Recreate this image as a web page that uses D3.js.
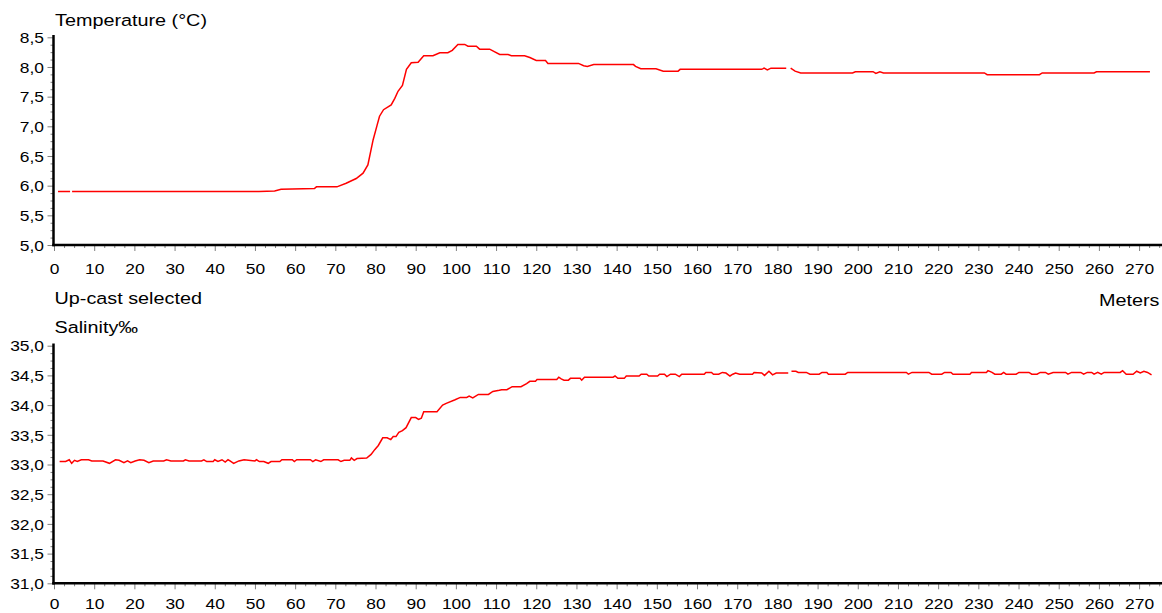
<!DOCTYPE html>
<html>
<head>
<meta charset="utf-8">
<script src="https://cdnjs.cloudflare.com/ajax/libs/d3/7.8.5/d3.min.js"></script>
<style>
body { margin: 0; background: #fff; }
svg { display: block; }
</style>
</head>
<body>
<div id="chart"></div>
<script>
// tick values
var depthTicks = d3.range(0, 271, 10);
var tempTicks = [5.0, 5.5, 6.0, 6.5, 7.0, 7.5, 8.0, 8.5];
var salTicks = [31.0, 31.5, 32.0, 32.5, 33.0, 33.5, 34.0, 34.5, 35.0];

// temperature profile (null = break in the trace)
var tempDepth = [1, 4.0, 4.2, 4.5, 51, 54.9, 56.5, 64.8, 65.3, 70.4,
	72.7, 75.2, 76.9, 78.1, 79.4, 80.4, 81.0, 82.0, 83.9, 84.8,
	85.6, 86.7, 87.7, 88.9, 90.6, 92.0, 94.3, 96.0, 98.0, 99.1,
	100.5, 102.2, 103.0, 105.1, 105.9, 108.4, 110.9, 113.0, 113.8, 117.1,
	118.4, 120.0, 122.3, 122.9, 129.6, 130.5, 131.8, 132.7, 134.3, 144.2,
	144.7, 146.0, 149.8, 151.6, 155.3, 155.8, 176.1, 176.7, 177.5, 178.4,
	182.2, 182.8, 183.3, 184.4, 185.8, 198.7, 199.4, 203.8, 204.5, 205.5,
	206.4, 231.5, 232.2, 245.2, 245.9, 258.8, 259.4, 272.7];
var tempValue = [5.90, 5.90, null, 5.90, 5.90, 5.91, 5.94, 5.95, 5.98, 5.98,
	6.04, 6.12, 6.21, 6.35, 6.77, 7.02, 7.17, 7.28, 7.36, 7.47,
	7.59, 7.69, 7.96, 8.07, 8.08, 8.19, 8.19, 8.24, 8.24, 8.28,
	8.38, 8.38, 8.35, 8.35, 8.30, 8.30, 8.21, 8.21, 8.19, 8.19,
	8.16, 8.11, 8.11, 8.06, 8.06, 8.06, 8.02, 8.01, 8.04, 8.04,
	8.01, 7.97, 7.97, 7.93, 7.93, 7.96, 7.96, 7.98, 7.95, 7.98,
	7.98, null, 7.98, 7.93, 7.90, 7.90, 7.92, 7.92, 7.89, 7.92,
	7.90, 7.90, 7.87, 7.87, 7.90, 7.90, 7.92, 7.92];

// salinity profile
var salDepth = [1.4, 2.9, 3.8, 4.4, 5.1, 5.8, 6.8, 8.6, 9.4, 12.2,
	13.8, 15.3, 16.2, 17.4, 18.3, 19.1, 20.2, 21.3, 22.4, 23.6,
	24.7, 27.3, 28.0, 29.1, 32.2, 32.7, 33.6, 36.7, 37.3, 38.0,
	39.6, 40.0, 40.8, 41.8, 42.6, 43.3, 43.8, 44.7, 46.0, 47.3,
	50.0, 50.4, 51.1, 52.2, 53.3, 54.0, 56.2, 56.7, 59.3, 59.8,
	60.4, 63.8, 64.4, 65.1, 66.4, 67.1, 70.7, 71.4, 72.2, 73.6,
	74.0, 74.7, 75.4, 77.8, 78.9, 79.8, 80.7, 81.8, 82.9, 83.8,
	84.4, 85.1, 85.8, 86.7, 87.6, 88.9, 90.0, 90.7, 91.4, 92.0,
	95.3, 96.7, 97.6, 99.8, 101.1, 102.7, 103.3, 104.2, 105.6, 108.1,
	109.2, 110.8, 111.4, 112.7, 114.0, 116.2, 117.6, 118.4, 119.8, 120.2,
	125.1, 125.6, 126.2, 126.9, 128.0, 128.5, 130.9, 131.3, 132.0, 139.1,
	139.6, 140.3, 141.9, 142.4, 145.6, 146.1, 147.5, 148.0, 150.2, 150.7,
	151.9, 152.5, 153.4, 154.6, 155.6, 156.2, 161.8, 162.2, 163.6, 164.1,
	165.4, 166.3, 167.2, 168.2, 168.9, 169.6, 170.6, 173.8, 174.2, 176.1,
	176.8, 177.9, 178.8, 179.7, 182.7, 183.1, 183.5, 184.6, 185.2, 187.2,
	188.1, 190.4, 191.1, 192.3, 192.7, 196.9, 197.5, 212.1, 212.6, 213.5,
	217.7, 218.4, 220.9, 221.6, 223.2, 223.7, 227.9, 228.3, 232.0, 232.4,
	233.4, 234.1, 235.7, 236.3, 236.9, 239.4, 240.1, 242.6, 243.3, 244.6,
	245.4, 246.7, 247.4, 248.6, 251.7, 252.3, 253.2, 255.5, 256.2, 257.1,
	258.2, 258.8, 259.7, 260.6, 261.3, 265.3, 265.9, 266.8, 268.5, 269.4,
	270.3, 271.2, 272.1, 273.1];
var salValue = [33.05, 33.05, 33.08, 33.02, 33.07, 33.05, 33.08, 33.08, 33.06, 33.06,
	33.02, 33.08, 33.07, 33.03, 33.06, 33.03, 33.06, 33.08, 33.07, 33.03,
	33.06, 33.06, 33.08, 33.06, 33.06, 33.08, 33.06, 33.06, 33.08, 33.05,
	33.05, 33.08, 33.05, 33.08, 33.04, 33.08, 33.06, 33.02, 33.06, 33.08,
	33.06, 33.08, 33.05, 33.05, 33.02, 33.05, 33.05, 33.08, 33.08, 33.05,
	33.08, 33.08, 33.05, 33.08, 33.05, 33.08, 33.08, 33.05, 33.07, 33.07,
	33.11, 33.07, 33.10, 33.11, 33.17, 33.25, 33.32, 33.45, 33.45, 33.42,
	33.47, 33.47, 33.54, 33.57, 33.62, 33.79, 33.79, 33.76, 33.78, 33.89,
	33.89, 34.00, 34.03, 34.09, 34.13, 34.13, 34.15, 34.12, 34.18, 34.18,
	34.23, 34.25, 34.26, 34.26, 34.31, 34.31, 34.36, 34.40, 34.40, 34.43,
	34.43, 34.47, 34.44, 34.42, 34.42, 34.45, 34.45, 34.42, 34.47, 34.47,
	34.49, 34.45, 34.45, 34.49, 34.49, 34.52, 34.52, 34.49, 34.49, 34.52,
	34.52, 34.48, 34.52, 34.52, 34.48, 34.52, 34.52, 34.55, 34.55, 34.52,
	34.52, 34.55, 34.54, 34.49, 34.52, 34.54, 34.52, 34.52, 34.55, 34.54,
	34.50, 34.57, 34.51, 34.54, 34.54, null, 34.57, 34.57, 34.55, 34.55,
	34.52, 34.52, 34.55, 34.55, 34.52, 34.52, 34.55, 34.55, 34.52, 34.55,
	34.55, 34.52, 34.52, 34.55, 34.55, 34.52, 34.52, 34.55, 34.55, 34.58,
	34.55, 34.52, 34.52, 34.55, 34.52, 34.52, 34.55, 34.55, 34.52, 34.52,
	34.55, 34.55, 34.52, 34.55, 34.55, 34.52, 34.55, 34.55, 34.52, 34.55,
	34.55, 34.52, 34.55, 34.52, 34.55, 34.55, 34.58, 34.52, 34.52, 34.57,
	34.54, 34.57, 34.55, 34.51];

var width = 1162,
	height = 613,
	font = "'Liberation Sans', Arial, sans-serif",
	stretch = 1.2;		// the original lettering is drawn wide

var comma = d3.formatLocale({decimal: ",", thousands: ".", grouping: [3], currency: ["", ""]}).format(".1f");

var svg = d3.select("#chart").append("svg")
	.attr("width", width)
	.attr("height", height);

var x = d3.scaleLinear().domain([0, 275.7]).range([54, 1162]);
var axisX = 53.5;

function drawPanel(y, yTicks, axisTop, labelY, depth, values) {
	var base = y.range()[0];
	var d0 = y.domain()[0], d1 = y.domain()[1];
	var yMinor = d3.range(d0, d1 + 0.01, 0.125).filter(function(v) {
		return Math.abs(v * 2 - Math.round(v * 2)) > 0.01;
	});
	var xMinor = d3.range(0, 276, 2.5).filter(function(v) { return v % 10 != 0; });

	// y ticks
	svg.append('g')
		.attr('transform', 'translate(' + axisX + ',0)')
		.call(d3.axisLeft(y).tickValues(yMinor).tickSize(3).tickFormat(''))
		.call(function(g) { g.select('.domain').remove(); g.selectAll('line').attr('stroke', '#808080'); });
	var ya = svg.append('g')
		.attr('transform', 'translate(' + axisX + ',0)')
		.call(d3.axisLeft(y).tickValues(yTicks).tickSize(6).tickFormat(comma))
		.attr('font-family', font)
		.attr('font-size', 14.5);
	ya.select('.domain').remove();
	ya.selectAll('line').attr('stroke', '#808080');
	ya.selectAll('text')
		.attr('x', -9.5 / stretch)
		.attr('dy', '0.36em')
		.attr('fill', '#000')
		.attr('transform', 'scale(' + stretch + ',1)');

	// x ticks
	svg.append('g')
		.attr('transform', 'translate(0,' + base + ')')
		.call(d3.axisBottom(x).tickValues(xMinor).tickSize(3).tickFormat(''))
		.call(function(g) { g.select('.domain').remove(); g.selectAll('line').attr('stroke', '#808080'); });
	var xa = svg.append('g')
		.attr('transform', 'translate(0,' + base + ')')
		.call(d3.axisBottom(x).tickValues(depthTicks).tickSize(6).tickFormat(d3.format('d')))
		.attr('font-family', font)
		.attr('font-size', 14.5);
	xa.select('.domain').remove();
	xa.selectAll('line').attr('stroke', '#808080');
	xa.selectAll('text')
		.attr('y', labelY)
		.attr('dy', 0)
		.attr('fill', '#000')
		.attr('transform', 'scale(' + stretch + ',1)');

	// heavy axis lines
	svg.append('line')
		.attr('x1', axisX).attr('x2', axisX)
		.attr('y1', axisTop).attr('y2', base + 1.25)
		.attr('stroke', '#000').attr('stroke-width', 2.5);
	svg.append('line')
		.attr('x1', axisX - 1.25).attr('x2', width)
		.attr('y1', base).attr('y2', base)
		.attr('stroke', '#000').attr('stroke-width', 2.5);

	// trace
	var line = d3.line()
		.defined(function(i) { return values[i] != null; })
		.x(function(i) { return x(depth[i]); })
		.y(function(i) { return y(values[i]); });
	svg.append('path')
		.datum(d3.range(depth.length))
		.attr('d', line)
		.attr('fill', 'none')
		.attr('stroke', '#ff0000')
		.attr('stroke-width', 1.5);
}

var yTemp = d3.scaleLinear().domain([5, 8.5]).range([245, 37.3]);
var ySal = d3.scaleLinear().domain([31, 35]).range([583.3, 345.7]);

drawPanel(yTemp, tempTicks, 35, 29, tempDepth, tempValue);
drawPanel(ySal, salTicks, 343.5, 26, salDepth, salValue);

// labels
function label(txt, px, py, anchor) {
	svg.append('text')
		.attr('transform', 'translate(' + px + ',' + py + ') scale(' + stretch + ',1)')
		.attr('text-anchor', anchor || 'start')
		.attr('font-family', font)
		.attr('font-size', 16.5)
		.attr('fill', '#000')
		.text(txt);
}
label('Temperature (°C)', 55, 26);
label('Up-cast selected', 54.5, 304);
label('Meters', 1159.5, 305.5, 'end');
label('Salinity‰', 54.5, 332.5);
</script>
</body>
</html>
